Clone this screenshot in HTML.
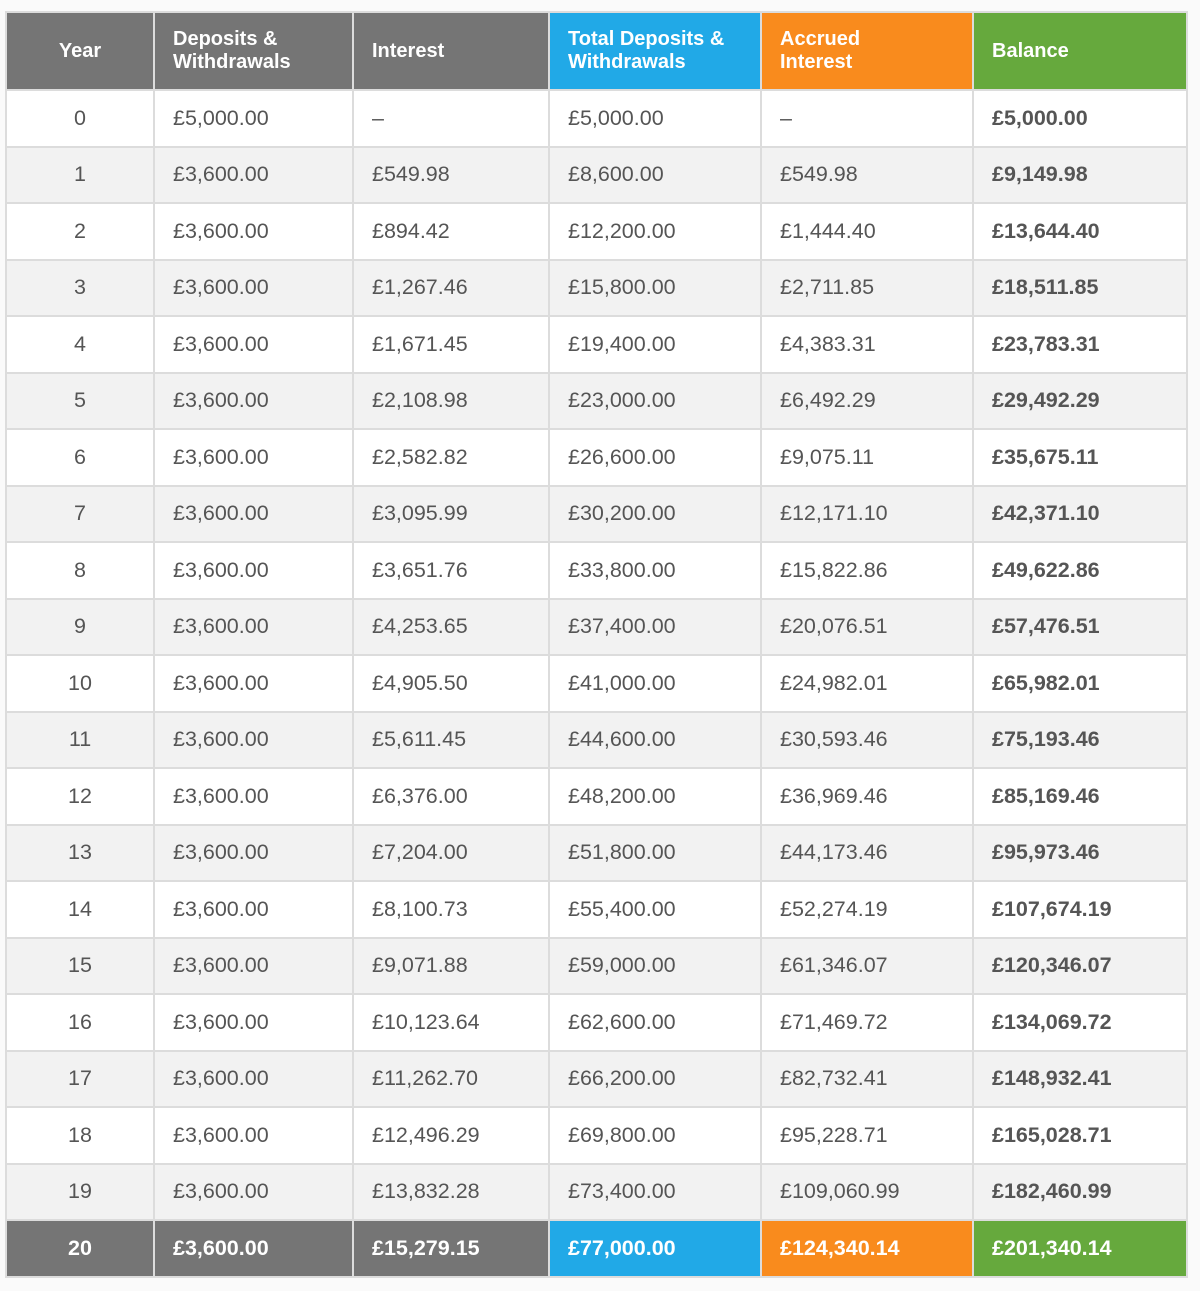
<!DOCTYPE html>
<html><head><meta charset="utf-8"><style>
html,body{margin:0;padding:0;background:#fafafa;width:1200px;height:1291px;overflow:hidden}
table{position:absolute;left:5px;top:11px;border-collapse:collapse;table-layout:fixed;width:1181px;font-family:"Liberation Sans",Arial,sans-serif;font-size:21.5px;color:#555}
td,th{border:2px solid #dcdcdc;padding:0 0 0 18px;text-align:left;height:54.5px;white-space:nowrap}
th{height:76px;color:#fff;font-weight:bold;font-size:20px;line-height:23px;background:#757575;white-space:normal}
td:first-child,th:first-child{text-align:center;padding:0}
tr:nth-child(odd) td{background:#f2f2f2}
tr:nth-child(even) td{background:#fff}
td:last-child{font-weight:bold}
th.b{background:#21a9e7}th.o{background:#f98b1d}th.g{background:#66a93d}
tr.last td{background:#757575!important;color:#fff;font-weight:bold}
tr.last td.b{background:#21a9e7!important}tr.last td.o{background:#f98b1d!important}tr.last td.g{background:#66a93d!important}
</style></head><body>
<table>
<colgroup><col style="width:148px"><col style="width:199px"><col style="width:196px"><col style="width:212px"><col style="width:212px"><col style="width:214px"></colgroup>
<tr><th>Year</th><th>Deposits &amp;<br>Withdrawals</th><th>Interest</th><th class="b">Total Deposits &amp;<br>Withdrawals</th><th class="o">Accrued<br>Interest</th><th class="g">Balance</th></tr>
<tr><td>0</td><td>£5,000.00</td><td>–</td><td>£5,000.00</td><td>–</td><td>£5,000.00</td></tr>
<tr><td>1</td><td>£3,600.00</td><td>£549.98</td><td>£8,600.00</td><td>£549.98</td><td>£9,149.98</td></tr>
<tr><td>2</td><td>£3,600.00</td><td>£894.42</td><td>£12,200.00</td><td>£1,444.40</td><td>£13,644.40</td></tr>
<tr><td>3</td><td>£3,600.00</td><td>£1,267.46</td><td>£15,800.00</td><td>£2,711.85</td><td>£18,511.85</td></tr>
<tr><td>4</td><td>£3,600.00</td><td>£1,671.45</td><td>£19,400.00</td><td>£4,383.31</td><td>£23,783.31</td></tr>
<tr><td>5</td><td>£3,600.00</td><td>£2,108.98</td><td>£23,000.00</td><td>£6,492.29</td><td>£29,492.29</td></tr>
<tr><td>6</td><td>£3,600.00</td><td>£2,582.82</td><td>£26,600.00</td><td>£9,075.11</td><td>£35,675.11</td></tr>
<tr><td>7</td><td>£3,600.00</td><td>£3,095.99</td><td>£30,200.00</td><td>£12,171.10</td><td>£42,371.10</td></tr>
<tr><td>8</td><td>£3,600.00</td><td>£3,651.76</td><td>£33,800.00</td><td>£15,822.86</td><td>£49,622.86</td></tr>
<tr><td>9</td><td>£3,600.00</td><td>£4,253.65</td><td>£37,400.00</td><td>£20,076.51</td><td>£57,476.51</td></tr>
<tr><td>10</td><td>£3,600.00</td><td>£4,905.50</td><td>£41,000.00</td><td>£24,982.01</td><td>£65,982.01</td></tr>
<tr><td>11</td><td>£3,600.00</td><td>£5,611.45</td><td>£44,600.00</td><td>£30,593.46</td><td>£75,193.46</td></tr>
<tr><td>12</td><td>£3,600.00</td><td>£6,376.00</td><td>£48,200.00</td><td>£36,969.46</td><td>£85,169.46</td></tr>
<tr><td>13</td><td>£3,600.00</td><td>£7,204.00</td><td>£51,800.00</td><td>£44,173.46</td><td>£95,973.46</td></tr>
<tr><td>14</td><td>£3,600.00</td><td>£8,100.73</td><td>£55,400.00</td><td>£52,274.19</td><td>£107,674.19</td></tr>
<tr><td>15</td><td>£3,600.00</td><td>£9,071.88</td><td>£59,000.00</td><td>£61,346.07</td><td>£120,346.07</td></tr>
<tr><td>16</td><td>£3,600.00</td><td>£10,123.64</td><td>£62,600.00</td><td>£71,469.72</td><td>£134,069.72</td></tr>
<tr><td>17</td><td>£3,600.00</td><td>£11,262.70</td><td>£66,200.00</td><td>£82,732.41</td><td>£148,932.41</td></tr>
<tr><td>18</td><td>£3,600.00</td><td>£12,496.29</td><td>£69,800.00</td><td>£95,228.71</td><td>£165,028.71</td></tr>
<tr><td>19</td><td>£3,600.00</td><td>£13,832.28</td><td>£73,400.00</td><td>£109,060.99</td><td>£182,460.99</td></tr>
<tr class="last"><td>20</td><td>£3,600.00</td><td>£15,279.15</td><td class="b">£77,000.00</td><td class="o">£124,340.14</td><td class="g">£201,340.14</td></tr>
</table>
</body></html>
